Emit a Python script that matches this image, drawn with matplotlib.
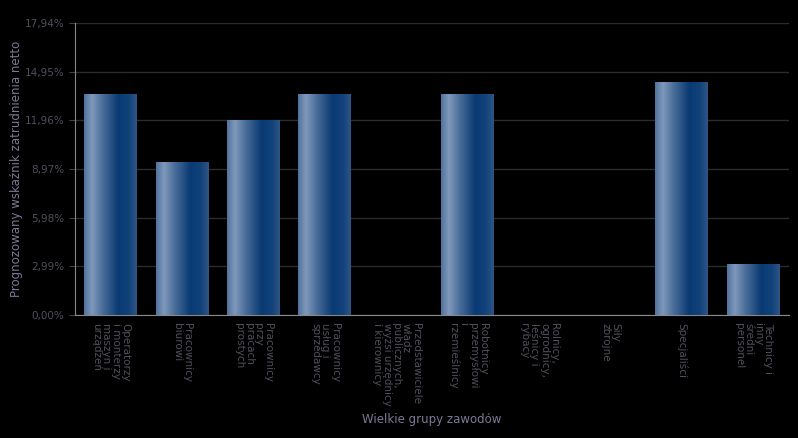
import numpy as np
import matplotlib
matplotlib.use("Agg")
import matplotlib.pyplot as plt
from matplotlib.colors import LinearSegmentedColormap

# ---- data ----
categories = [
    "Operatorzy\ni monterzy\nmaszyn i\nurządzeń",
    "Pracownicy\nbiurowi",
    "Pracownicy\nprzy\npracach\nprostych",
    "Pracownicy\nusług i\nsprzedawcy",
    "Przedstawiciele\nwładz\npublicznych,\nwyżsi urzędnicy\ni kierownicy",
    "Robotnicy\nprzemysłowi\ni\nrzemieślnicy",
    "Rolnicy,\nogrodnicy,\nleśnicy i\nrybacy",
    "Siły\nzbrojne",
    "Specjaliści",
    "Technicy i\ninny\nśredni\npersonel",
]
values = [13.57, 9.40, 11.98, 13.57, 0.0, 13.57, 0.0, 0.0, 14.31, 3.13]
yticks = [0.0, 2.99, 5.98, 8.97, 11.96, 14.95, 17.94]
ytick_labels = ["0,00%", "2,99%", "5,98%", "8,97%", "11,96%", "14,95%", "17,94%"]

# gradient across each bar (left -> right)
bar_cmap = LinearSegmentedColormap.from_list(
    "bar", [(0.0, "#4f739e"), (0.15, "#8098bb"), (0.35, "#4a6e99"),
            (0.65, "#0a3a73"), (0.85, "#12427a"), (1.0, "#2e5686")])

fig = plt.figure(figsize=(7.98, 4.38), dpi=100, facecolor="black")
ax = fig.add_axes([75 / 798, 123 / 438, 714 / 798, 292 / 438], facecolor="black")

x = np.arange(len(categories))
bars = ax.bar(x, values, width=0.74, color="none", zorder=3)
grad = np.linspace(0, 1, 256).reshape(1, -1)
for b in bars:
    if b.get_height() <= 0:
        continue
    x0, w, h = b.get_x(), b.get_width(), b.get_height()
    im = ax.imshow(grad, cmap=bar_cmap, aspect="auto", extent=[x0, x0 + w, 0, h],
                   zorder=3, interpolation="bicubic")
    im.set_clip_path(b)

ax.set_xlim(-0.5, len(categories) - 0.5)
ax.set_ylim(0, 17.94)
ax.set_yticks(yticks)
ax.set_yticklabels(ytick_labels)
ax.set_xticks(x)
ax.set_xticklabels(categories, rotation=270, ha="center", va="top",
                   multialignment="left", linespacing=0.95)

ax.grid(axis="y", color="#2c2c2c", linewidth=1, zorder=0)
for side in ["top", "right"]:
    ax.spines[side].set_visible(False)
for side in ["left", "bottom"]:
    ax.spines[side].set_color("#8a8a8a")
ax.tick_params(axis="y", colors="#444444", labelcolor="#50505c", labelsize=7.5, length=4)
ax.tick_params(axis="x", colors="#444444", labelcolor="#50505c", labelsize=7.5, length=0, pad=6)

ax.set_ylabel("Prognozowany wskaźnik zatrudnienia netto", color="#7a7a96", fontsize=8.5)
ax.yaxis.set_label_coords(-0.073, 0.5)
fig.text(432 / 798, 1 - 420 / 438, "Wielkie grupy zawodów", color="#7a7a96",
         fontsize=8.5, ha="center", va="center")

fig.savefig("out.png", dpi=100, facecolor="black")
